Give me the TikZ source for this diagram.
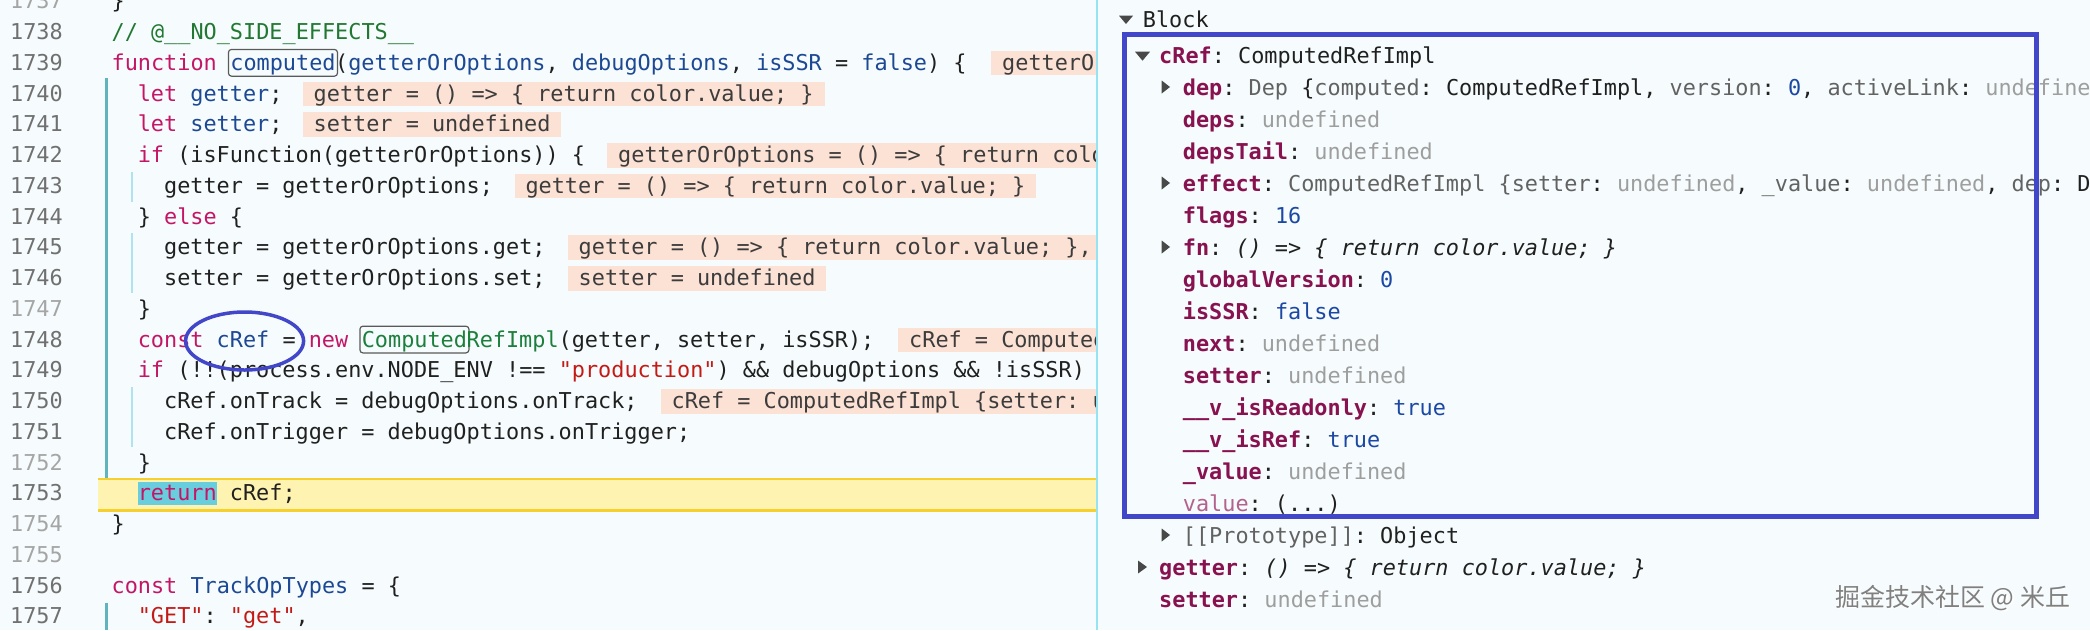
\documentclass[tikz,border=0pt]{standalone}
\usepackage{fontspec}
\usetikzlibrary{shapes.geometric}
\newfontfamily\cf{DejaVu Sans Mono}
\newfontfamily\cjk{Noto Sans CJK SC}
\definecolor{bgc}{RGB}{246,252,253}
\definecolor{kwc}{RGB}{196,22,102}
\definecolor{idc}{RGB}{28,72,148}
\definecolor{cmc}{RGB}{34,120,50}
\definecolor{grnc}{RGB}{28,128,60}
\definecolor{strc}{RGB}{196,26,22}
\definecolor{txtc}{RGB}{32,32,32}
\definecolor{numd}{RGB}{112,112,112}
\definecolor{numl}{RGB}{165,165,165}
\definecolor{pinkbg}{RGB}{252,225,213}
\definecolor{inlc}{RGB}{60,60,60}
\definecolor{yelbg}{RGB}{255,243,178}
\definecolor{yelbd}{RGB}{246,208,46}
\definecolor{retbg}{RGB}{104,206,222}
\definecolor{guidec}{RGB}{96,180,190}
\definecolor{guidel}{RGB}{175,228,238}
\definecolor{divc}{RGB}{150,228,243}
\definecolor{blueb}{RGB}{66,70,200}
\definecolor{keyc}{RGB}{136,18,80}
\definecolor{keylc}{RGB}{178,98,140}
\definecolor{prevc}{RGB}{98,98,98}
\definecolor{undefc}{RGB}{158,158,158}
\definecolor{valc}{RGB}{28,72,165}
\definecolor{tric}{RGB}{72,72,72}
\definecolor{wmc}{RGB}{128,128,128}
\definecolor{boxg}{RGB}{90,90,90}
\newcommand\codef{\cf\fontsize{21.85}{26}\selectfont\frenchspacing}
\newcommand\mykw[1]{{\color{kwc}#1}}
\newcommand\myid[1]{{\color{idc}#1}}
\newcommand\mycm[1]{{\color{cmc}#1}}
\newcommand\mygrn[1]{{\color{grnc}#1}}
\newcommand\mystr[1]{{\color{strc}#1}}
\newcommand\mykey[1]{{\bfseries\color{keyc}#1}}
\newcommand\myprev[1]{{\color{prevc}#1}}
\newcommand\myundef[1]{{\color{undefc}#1}}
\newcommand\myval[1]{{\color{valc}#1}}
\tikzset{
  code/.style={anchor=base west, inner sep=0pt, font=\codef, text=txtc},
  lnum/.style={anchor=base east, inner sep=0pt, font=\codef, text=numd},
  lnuml/.style={lnum, text=numl},
  inline/.style={anchor=base west, inner xsep=11pt, inner ysep=0pt, text height=19.5pt, text depth=4.8pt, fill=pinkbg, text=inlc, font=\codef},
  cbox/.style={anchor=base west, draw=boxg, line width=1.2pt, rounded corners=3pt, inner xsep=1.9pt, inner ysep=0pt, text height=21pt, text depth=5.7pt, font=\codef},
  retbox/.style={anchor=base west, fill=retbg, inner sep=0pt, text height=19.25pt, text depth=4pt, font=\codef, text=kwc},
  guideo/.style={draw=guidec, line width=2.2pt},
  guidei/.style={draw=guidel, line width=1.8pt},
  tri/.style={fill=tric},
  wmark/.style={anchor=base west, inner sep=0pt, font=\cjk\fontsize{25}{25}\selectfont},
}
\begin{document}
\begin{tikzpicture}[x=1pt,y=-1pt]
\useasboundingbox (0,0) rectangle (2090,630);
\fill[bgc] (0,0) rectangle (2090,630);
% ---------------- left panel ----------------
\begin{scope}
\clip (0,0) rectangle (1096,630);
\draw[guideo] (106.4,77.9) -- (106.4,477.7);
\draw[guideo] (106.4,602.7) -- (106.4,630);
\draw[guidei] (132,171.7) -- (132,201.7);
\draw[guidei] (132,233) -- (132,293);
\draw[guidei] (132,387) -- (132,447);
\fill[yelbg] (97.9,477.7) rectangle (1096,511.7);
\draw[yelbd, line width=2.3pt] (97.9,478.8) -- (1096,478.8);
\draw[yelbd, line width=2.3pt] (97.9,510.6) -- (1096,510.6);

\node[lnuml] (n1737) at (63,8.95) {1737};
\node[code] (c1737) at (111.4,8.95) {\}};
\node[lnum] (n1738) at (63,39.7) {1738};
\node[code] (c1738) at (111.4,39.7) {\mycm{// @\_\_NO\_SIDE\_EFFECTS\_\_}};
\node[lnum] (n1739) at (63,70.45) {1739};
\node[code] (c1739a) at (111.4,70.45) {\mykw{function}};
\node[cbox, text=idc] (c1739b) at (227.85,70.45) {computed};
\node[code] (c1739c) at (334.95,70.45) {(\myid{getterOrOptions}, \myid{debugOptions}, \myid{isSSR} = \myid{false}) \{};
\node[inline] (v1739) at (991,70.45) {getterOr};
\node[lnum] (n1740) at (63,101.2) {1740};
\node[code] (c1740) at (137.6,101.2) {\mykw{let} \myid{getter};};
\node[inline] (v1740) at (302.5,101.2) {getter = () => \{ return color.value; \}};
\node[lnum] (n1741) at (63,131.95) {1741};
\node[code] (c1741) at (137.6,131.95) {\mykw{let} \myid{setter};};
\node[inline] (v1741) at (302.5,131.95) {setter = undefined};
\node[lnum] (n1742) at (63,162.7) {1742};
\node[code] (c1742) at (137.6,162.7) {\mykw{if} (isFunction(getterOrOptions)) \{};
\node[inline] (v1742) at (607,162.7) {getterOrOptions = () => \{ return colo};
\node[lnum] (n1743) at (63,193.45) {1743};
\node[code] (c1743) at (163.9,193.45) {getter = getterOrOptions;};
\node[inline] (v1743) at (514.3,193.45) {getter = () => \{ return color.value; \}};
\node[lnum] (n1744) at (63,224.2) {1744};
\node[code] (c1744) at (137.6,224.2) {\} \mykw{else} \{};
\node[lnum] (n1745) at (63,254.95) {1745};
\node[code] (c1745) at (163.9,254.95) {getter = getterOrOptions.get;};
\node[inline] (v1745) at (567.5,254.95) {getter = () => \{ return color.value; \},};
\node[lnum] (n1746) at (63,285.7) {1746};
\node[code] (c1746) at (163.9,285.7) {setter = getterOrOptions.set;};
\node[inline] (v1746) at (567.5,285.7) {setter = undefined};
\node[lnuml] (n1747) at (63,316.45) {1747};
\node[code] (c1747) at (137.6,316.45) {\}};
\node[lnum] (n1748) at (63,347.2) {1748};
\node[code] (c1748a) at (137.6,347.2) {\mykw{const} \myid{cRef} = \mykw{new}};
\node[cbox, text=grnc] (c1748b) at (359.3,347.2) {Computed};
\node[code] (c1748c) at (466.4,347.2) {\mygrn{RefImpl}(getter, setter, isSSR);};
\node[inline] (v1748) at (898,347.2) {cRef = Computed};
\node[lnum] (n1749) at (63,377.95) {1749};
\node[code] (c1749) at (137.6,377.95) {\mykw{if} (!!(process.env.NODE\_ENV !== \mystr{"production"}) \&\& debugOptions \&\& !isSSR)};
\node[lnum] (n1750) at (63,408.7) {1750};
\node[code] (c1750) at (163.9,408.7) {cRef.onTrack = debugOptions.onTrack;};
\node[inline] (v1750) at (660.4,408.7) {cRef = ComputedRefImpl \{setter: u};
\node[lnum] (n1751) at (63,439.45) {1751};
\node[code] (c1751) at (163.9,439.45) {cRef.onTrigger = debugOptions.onTrigger;};
\node[lnuml] (n1752) at (63,470.2) {1752};
\node[code] (c1752) at (137.6,470.2) {\}};
\node[lnum] (n1753) at (63,500.95) {1753};
\node[retbox] (c1753a) at (137.6,500.95) {return};
\node[code] (c1753b) at (229.7,500.95) {cRef;};
\node[lnuml] (n1754) at (63,531.7) {1754};
\node[code] (c1754) at (111.4,531.7) {\}};
\node[lnuml] (n1755) at (63,562.45) {1755};
\node[lnum] (n1756) at (63,593.2) {1756};
\node[code] (c1756) at (111.4,593.2) {\mykw{const} \myid{TrackOpTypes} = \{};
\node[lnum] (n1757) at (63,623.95) {1757};
\node[code] (c1757) at (137.6,623.95) {\mystr{"GET"}: \mystr{"get"},};
\node[draw=blueb, line width=3.5pt, ellipse, minimum width=118pt, minimum height=58pt, inner sep=0pt] (circ) at (244.6,341) {};
\end{scope}
% divider
\draw[divc, line width=2pt] (1097,0) -- (1097,630);
% ---------------- right panel ----------------
\fill[tri] (1119,15.7) -- (1133,15.7) -- (1126,24) -- cycle;
\node[code] (blk) at (1142.7,27.3) {Block};
\fill[tri] (1135,51.7) -- (1150,51.7) -- (1142.5,60.7) -- cycle;
\node[code] (r0) at (1159,63) {\mykey{cRef}: ComputedRefImpl};
\fill[tri] (1161.7,80.5) -- (1170,87) -- (1161.7,93.5) -- cycle;
\node[code] (r1) at (1182.7,95) {\mykey{dep}: \myprev{Dep} \{\myprev{computed}: ComputedRefImpl, \myprev{version}: \myval{0}, \myprev{activeLink}: \myundef{undefined}};
\node[code] (r2) at (1182.7,127) {\mykey{deps}: \myundef{undefined}};
\node[code] (r3) at (1182.7,159) {\mykey{depsTail}: \myundef{undefined}};
\fill[tri] (1161.7,176.5) -- (1170,183) -- (1161.7,189.5) -- cycle;
\node[code] (r4) at (1182.7,191) {\mykey{effect}: \myprev{ComputedRefImpl \{setter}: \myundef{undefined}, \myprev{\_value}: \myundef{undefined}, \myprev{dep}: D};
\node[code] (r5) at (1182.7,223) {\mykey{flags}: \myval{16}};
\fill[tri] (1161.7,240.5) -- (1170,247) -- (1161.7,253.5) -- cycle;
\node[code] (r6) at (1182.7,255) {\mykey{fn}: \itshape () => \{ return color.value; \}};
\node[code] (r7) at (1182.7,287) {\mykey{globalVersion}: \myval{0}};
\node[code] (r8) at (1182.7,319) {\mykey{isSSR}: \myval{false}};
\node[code] (r9) at (1182.7,351) {\mykey{next}: \myundef{undefined}};
\node[code] (r10) at (1182.7,383) {\mykey{setter}: \myundef{undefined}};
\node[code] (r11) at (1182.7,415) {\mykey{\_\_v\_isReadonly}: \myval{true}};
\node[code] (r12) at (1182.7,447) {\mykey{\_\_v\_isRef}: \myval{true}};
\node[code] (r13) at (1182.7,479) {\mykey{\_value}: \myundef{undefined}};
\node[code] (r14) at (1182.7,511) {{\color{keylc}value}: (...)};
\draw[blueb, line width=4.5pt] (1124.3,34.5) rectangle (2036.5,516.3);
\fill[tri] (1161.7,528.5) -- (1170,535) -- (1161.7,541.5) -- cycle;
\node[code] (r15) at (1182.7,543) {{\color{prevc}[[Prototype]]}: Object};
\fill[tri] (1138,560.5) -- (1147,567) -- (1138,573.5) -- cycle;
\node[code] (r16) at (1159,575) {\mykey{getter}: \itshape () => \{ return color.value; \}};
\node[code] (r17) at (1159,607) {\mykey{setter}: \myundef{undefined}};
% watermark
\node[wmark, text=white] (wmshadow) at (1836.3,607.3) {掘金技术社区 @ 米丘};
\node[wmark, text=wmc] (wm) at (1835,606) {掘金技术社区 @ 米丘};
\end{tikzpicture}
\end{document}
